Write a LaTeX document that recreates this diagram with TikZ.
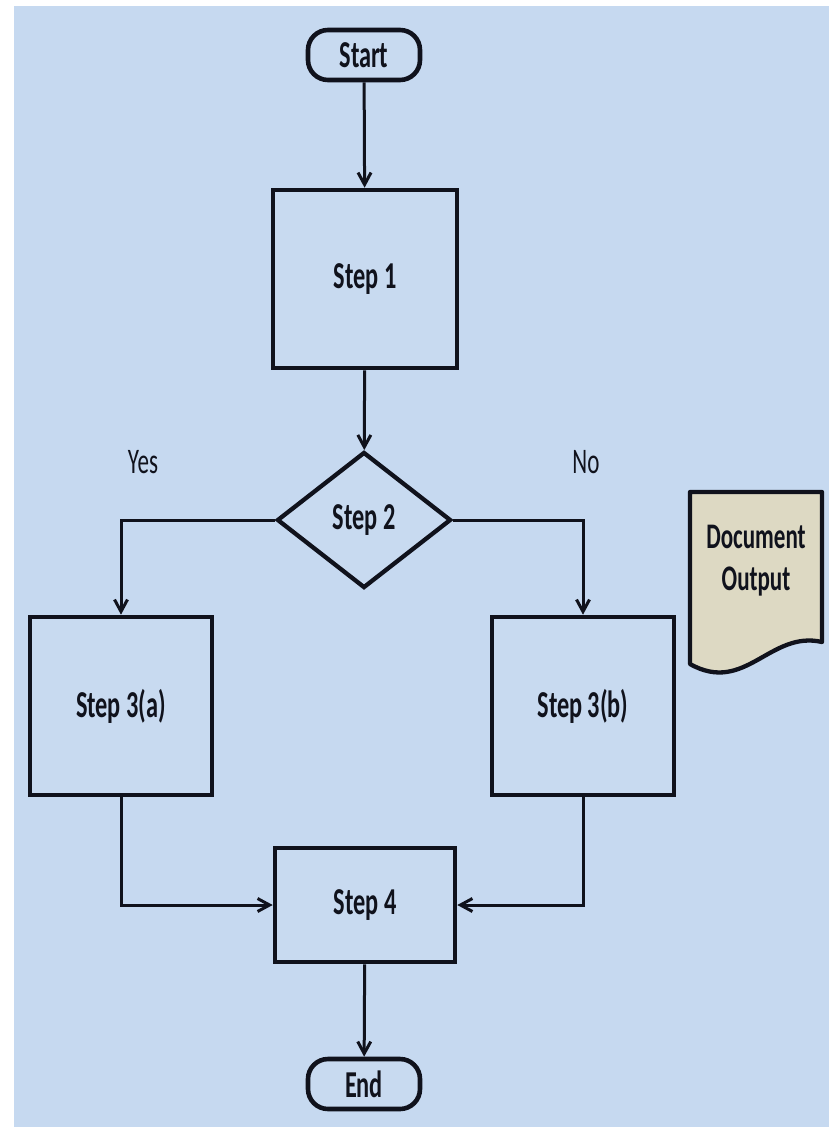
\documentclass[tikz,border=0pt]{standalone}
\usepackage{fontspec}
\setmainfont{Carlito}[FakeStretch=0.64]
\usetikzlibrary{shapes.geometric,arrows.meta}
\definecolor{bgblue}{HTML}{C6D9F0}
\definecolor{boxblue}{HTML}{C8DAF0}
\definecolor{docfill}{HTML}{DDD9C3}
\definecolor{ink}{HTML}{10121C}
\tikzset{
  every node/.style={text=ink, font=\bfseries\fontsize{38}{42}\selectfont},
  procbox/.style={draw=ink, line width=4.6pt, fill=boxblue, inner sep=0pt},
  terminal/.style={procbox, rounded corners=20pt, minimum width=112pt, minimum height=50pt},
  decision/.style={draw=ink, line width=4.3pt, fill=boxblue, diamond, inner sep=0pt,
    minimum width=174pt, minimum height=136pt},
  flow/.style={draw=ink, line width=3pt, -{Straight Barb[length=12pt,width=13pt,line width=3pt]}},
  branch/.style={font=\fontsize{36}{40}\selectfont},
}
\begin{document}
\begin{tikzpicture}[x=1pt,y=-1pt]
  \useasboundingbox (0,0) rectangle (829,1127);
  \fill[bgblue] (14,6) rectangle (829,1127);

  % main column
  \node[terminal] (start) at (364,55) {Start};
  \node[procbox, minimum width=184pt, minimum height=178pt] (s1) at (365,279) {Step 1};
  \node[decision] (s2) at (364,520) {Step 2};
  \node[procbox, minimum width=182pt, minimum height=178pt] (s3a) at (121,706) {Step 3(a)};
  \node[procbox, minimum width=182pt, minimum height=178pt] (s3b) at (583,706) {Step 3(b)};
  \node[procbox, minimum width=180pt, minimum height=114pt] (s4) at (365,905) {Step 4};
  \node[terminal] (end) at (364,1084) {End};

  % branch labels
  \node[branch] (yes) at (143,462) {Yes};
  \node[branch] (no) at (586,462) {No};

  % document output symbol
  \coordinate (dtl) at (690,492);
  \coordinate (dtr) at (822,492);
  \coordinate (dbr) at (822,642);
  \coordinate (dbl) at (690,664);
  \draw[draw=ink, line width=4.3pt, fill=docfill, line join=round]
    (dtl) -- (dtr) -- (dbr) .. controls (770,630) and (745,695) .. (dbl) -- cycle;
  \node[align=center, font=\bfseries\fontsize{36}{42}\selectfont] (doc) at (756,561) {Document\\Output};

  % connectors
  \draw[flow] (start) -- (s1);
  \draw[flow] (s1) -- (s2);
  \draw[flow] (s2.west) -| (s3a.north);
  \draw[flow] (s2.east) -| (s3b.north);
  \draw[flow] (s3a.south) |- (s4.west);
  \draw[flow] (s3b.south) |- (s4.east);
  \draw[flow] (s4) -- (end);
\end{tikzpicture}
\end{document}
